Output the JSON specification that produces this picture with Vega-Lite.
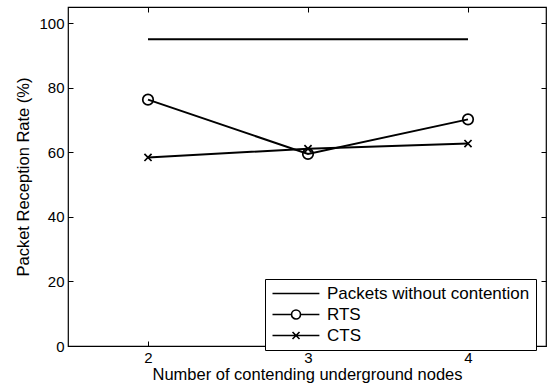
{
  "$schema": "https://vega.github.io/schema/vega-lite/v6.json",
  "width": 478,
  "height": 339,
  "autosize": {"type": "none"},
  "padding": {"left": 68, "top": 7, "right": 1, "bottom": 39},
  "background": "white",
  "config": {
    "font": "Liberation Sans",
    "view": {"stroke": "black", "strokeWidth": 1.2},
    "axis": {
      "grid": false,
      "domain": false,
      "tickColor": "black",
      "tickSize": -5,
      "tickWidth": 1,
      "labelPadding": 9,
      "labelFontSize": 15,
      "labelColor": "black",
      "titleFontSize": 16.5,
      "titleFontWeight": "normal",
      "titleColor": "black"
    }
  },
  "data": {
    "values": [
      {"series": "Packets without contention", "nodes": 2, "rate": 95},
      {"series": "Packets without contention", "nodes": 3, "rate": 95},
      {"series": "Packets without contention", "nodes": 4, "rate": 95},
      {"series": "RTS", "nodes": 2, "rate": 76.3},
      {"series": "RTS", "nodes": 3, "rate": 59.5},
      {"series": "RTS", "nodes": 4, "rate": 70.2},
      {"series": "CTS", "nodes": 2, "rate": 58.4},
      {"series": "CTS", "nodes": 3, "rate": 61.1},
      {"series": "CTS", "nodes": 4, "rate": 62.7}
    ]
  },
  "layer": [
    {
      "mark": {"type": "line", "strokeWidth": 2, "clip": true},
      "encoding": {
        "x": {
          "field": "nodes", "type": "quantitative",
          "scale": {"domain": [1.5, 4.4875], "nice": false, "zero": false},
          "axis": {"values": [2, 3, 4], "format": "d", "title": "Number of contending underground nodes", "titlePadding": 1}
        },
        "y": {
          "field": "rate", "type": "quantitative",
          "scale": {"domain": [0, 105], "nice": false},
          "axis": {"values": [0, 20, 40, 60, 80, 100], "title": "Packet Reception Rate (%)", "titlePadding": 7}
        },
        "color": {
          "field": "series", "type": "nominal",
          "scale": {"domain": ["Packets without contention", "RTS", "CTS"], "range": ["black", "black", "black"]},
          "legend": {
            "orient": "none",
            "legendX": 197,
            "legendY": 272,
            "title": null,
            "strokeColor": "black",
            "fillColor": "white",
            "padding": 6,
            "cornerRadius": 0,
            "rowPadding": 3,
            "symbolSize": 196,
            "symbolStrokeWidth": 1.6,
            "symbolStrokeColor": "black",
            "labelFontSize": 17,
            "labelColor": "black",
            "labelOffset": 39,
            "labelLimit": 400,
            "encode": {
              "symbols": {
                "update": {
                  "shape": {"signal": "datum.value === 'RTS' ? 'M-1,0H1.72M3,0H5.7M3,0A0.64,0.64 0 1 1 1.72,0A0.64,0.64 0 1 1 3,0' : datum.value === 'CTS' ? 'M-1,0H5.7M1.86,-0.5L2.86,0.5M1.86,0.5L2.86,-0.5' : 'M-1,0H5.7'"},
                  "strokeWidth": {"value": 1.6},
                  "stroke": {"value": "black"},
                  "fill": {"value": "transparent"}
                }
              }
            }
          }
        }
      }
    },
    {
      "transform": [{"filter": "datum.series !== 'Packets without contention'"}],
      "mark": {"type": "point", "filled": false, "strokeWidth": 1.7, "color": "black", "opacity": 1, "size": 110},
      "encoding": {
        "x": {
          "field": "nodes", "type": "quantitative",
          "axis": {"orient": "top", "values": [2, 3, 4], "labels": false, "title": null}
        },
        "y": {
          "field": "rate", "type": "quantitative",
          "axis": {"orient": "right", "values": [0, 20, 40, 60, 80, 100], "labels": false, "title": null}
        },
        "shape": {
          "field": "series", "type": "nominal",
          "scale": {"domain": ["RTS", "CTS"], "range": ["circle", "M-0.68,-0.68L0.68,0.68M-0.68,0.68L0.68,-0.68"]},
          "legend": null
        }
      }
    }
  ],
  "resolve": {"axis": {"x": "independent", "y": "independent"}}
}
